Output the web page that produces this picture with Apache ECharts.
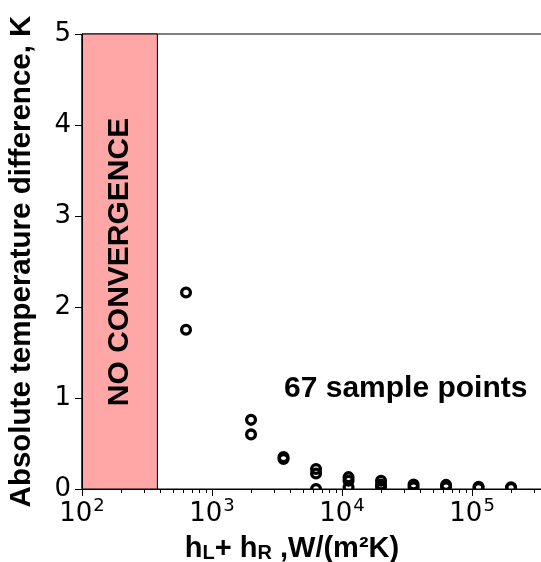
<!DOCTYPE html>
<html>
<head>
<meta charset="utf-8">
<script src="https://cdn.jsdelivr.net/npm/echarts@6/dist/echarts.min.js"></script>
<style>html,body{margin:0;padding:0;background:#fff;}#c{width:541px;height:562px;}</style>
</head>
<body>
<div id="c"></div>
<script>
// Data
var xValues = [631, 631, 1995, 1995, 3548, 3548, 6310, 6310, 6310, 11220, 11220, 11220, 19953, 19953, 19953, 35481, 35481, 63096, 63096, 112202, 112202, 199526, 199526];
var yValues = [2.16, 1.75, 0.76, 0.60, 0.35, 0.33, 0.22, 0.17, 0.0, 0.13, 0.09, 0.02, 0.09, 0.05, 0.02, 0.05, 0.02, 0.045, 0.02, 0.025, 0.01, 0.02, 0.01];
var noConvergenceRange = [100, 380];
var xMin = 100, xMax = 345000;
var yMin = 0, yMax = 5, yInterval = 1;
var majorTicks = [100, 1000, 10000, 100000];
var minorTicks = [];
[100, 1000, 10000, 100000].forEach(function (d) { for (var k = 2; k <= 9; k++) { if (d * k <= xMax) minorTicks.push(d * k); } });
var yTitle = 'Absolute temperature difference, K';
var annotation = '67 sample points';
var regionLabel = 'NO CONVERGENCE';

var points = xValues.map(function (x, i) { return [x, yValues[i]]; });

var chart = echarts.init(document.getElementById('c'), null, { renderer: 'canvas' });
chart.setOption({
  animation: false,
  backgroundColor: '#fff',
  grid: { left: 82, right: -1, top: 34, bottom: 73, containLabel: false, outerBoundsMode: 'none',
          show: true, borderColor: '#000', borderWidth: 1, backgroundColor: 'transparent' },
  xAxis: [{
    type: 'log', logBase: 10, min: xMin, max: xMax, position: 'bottom', z: 10,
    axisLine: { show: true, lineStyle: { color: '#000', width: 1 } },
    axisTick: { show: true, length: 7, lineStyle: { color: '#000', width: 1 }, customValues: majorTicks },
    splitLine: { show: false },
    axisLabel: {
      customValues: majorTicks,
      margin: 8, color: '#000',
      formatter: function (v) { var e = Math.round(Math.log10(v)); return '{a|10}{b|' + e + '}'; },
      rich: {
        a: { fontFamily: 'DejaVu Sans', fontSize: 26, color: '#000', lineHeight: 30, verticalAlign: 'bottom' },
        b: { fontFamily: 'DejaVu Sans', fontSize: 18, color: '#000', lineHeight: 30, verticalAlign: 'top', padding: [0, 0, 0, 1] }
      }
    },
    name: '{h|h}{s|L}{h|+ h}{s|R}{h| ,W/(m²K)}',
    nameLocation: 'middle', nameGap: 40,
    nameTextStyle: {
      padding: [0, 40, 0, 0],
      rich: {
        h: { fontFamily: 'Liberation Sans', fontWeight: 'bold', fontSize: 29, color: '#000', lineHeight: 34, verticalAlign: 'bottom' },
        s: { fontFamily: 'Liberation Sans', fontWeight: 'bold', fontSize: 20, color: '#000', lineHeight: 26, verticalAlign: 'bottom' }
      }
    }
  }, {
    type: 'log', logBase: 10, min: xMin, max: xMax, position: 'bottom', z: 10,
    axisLine: { show: false },
    axisTick: { show: true, length: 4, lineStyle: { color: '#000', width: 1 }, customValues: minorTicks },
    axisLabel: { show: false },
    splitLine: { show: false }
  }],
  yAxis: {
    type: 'value', min: yMin, max: yMax, interval: yInterval, z: 10,
    axisLine: { show: true, lineStyle: { color: '#000', width: 1 } },
    axisTick: { show: true, length: 7, lineStyle: { color: '#000', width: 1 } },
    splitLine: { show: false },
    axisLabel: { fontFamily: 'DejaVu Sans', fontSize: 26, color: '#000', margin: 11 },
    name: yTitle, nameLocation: 'middle', nameGap: 45,
    nameTextStyle: { fontFamily: 'Liberation Sans', fontWeight: 'bold', fontSize: 29.5, color: '#000' }
  },
  series: [{
    type: 'scatter', xAxisIndex: 0, data: points,
    symbol: 'circle', symbolSize: 8.8,
    itemStyle: { color: 'transparent', borderColor: '#000', borderWidth: 3.3, opacity: 1 },
    z: 2,
    markArea: {
      silent: true,
      itemStyle: { color: '#ffa6a6', borderColor: '#000', borderWidth: 1, opacity: 1 },
      data: [[{ xAxis: noConvergenceRange[0] }, { xAxis: noConvergenceRange[1] }]]
    }
  }],
  graphic: [
    { type: 'rect', z: 5, silent: true, shape: { x: 83, y: 490, width: 458, height: 8 }, style: { fill: '#fff' } },
    { type: 'text', z: 6, x: 120, y: 262, rotation: Math.PI / 2,
      style: { text: regionLabel, fontFamily: 'Liberation Sans', fontWeight: 'bold', fontSize: 30, fill: '#000', align: 'center', verticalAlign: 'middle' } },
    { type: 'text', z: 6, x: 284, y: 389,
      style: { text: annotation, fontFamily: 'Liberation Sans', fontWeight: 'bold', fontSize: 30, fill: '#000', align: 'left', verticalAlign: 'middle' } }
  ]
});
</script>
</body>
</html>
